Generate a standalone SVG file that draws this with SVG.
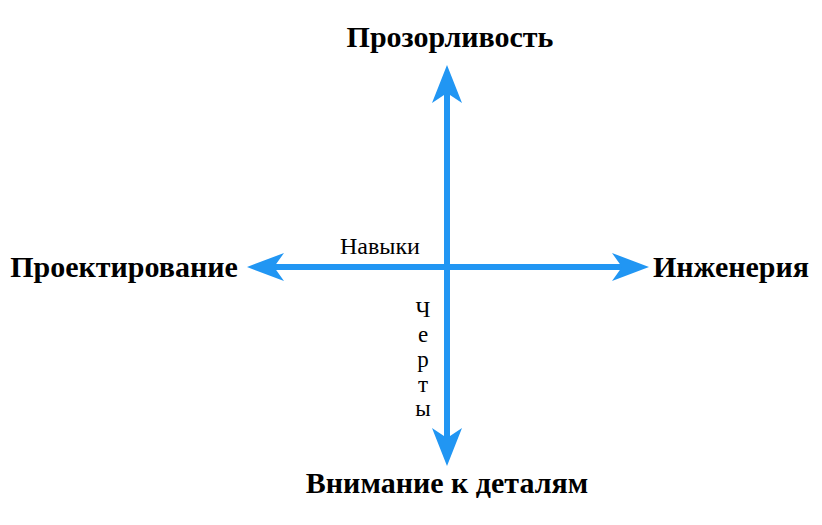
<svg xmlns="http://www.w3.org/2000/svg" width="822" height="525" viewBox="0 0 822 525">
<style>
.axis{stroke:#2196F3;stroke-width:6;fill:none}
.head{fill:#2196F3}
.lbl{font-weight:bold;font-size:30px;fill:#000;text-anchor:middle}
.sub{font-size:24px;fill:#000;text-anchor:middle}
.chr{font-size:23px;fill:#000;text-anchor:middle}
</style>
<rect width="822" height="525" fill="#fff"/>
<g id="connectors">
<line class="axis" x1="447" y1="92" x2="447" y2="440"/>
<line class="axis" x1="272" y1="267" x2="622" y2="267"/>
<path class="head" d="M447,65 L462,103 L447,93 L432,103 Z"/>
<path class="head" d="M447,466 L462,428 L447,438 L432,428 Z"/>
<path class="head" d="M247,267 L284,253 L274,267 L284,281 Z"/>
<path class="head" d="M649,267 L612,253 L622,267 L612,281 Z"/>
</g>
<g font-family="Liberation Serif">
<g id="top"><text class="lbl" x="450" y="47">Прозорливость</text></g>
<g id="left"><text class="lbl" x="124" y="277">Проектирование</text></g>
<g id="right"><text class="lbl" x="731" y="277">Инженерия</text></g>
<g id="bottom"><text class="lbl" x="447" y="493">Внимание к деталям</text></g>
<g id="skills"><text class="sub" x="380" y="254">Навыки</text></g>
<g id="traits">
<text class="chr" x="423" y="317">Ч</text>
<text class="chr" x="423" y="342">е</text>
<text class="chr" x="423" y="367">р</text>
<text class="chr" x="423" y="392">т</text>
<text class="chr" x="423" y="416">ы</text>
</g>
</g>
</svg>
